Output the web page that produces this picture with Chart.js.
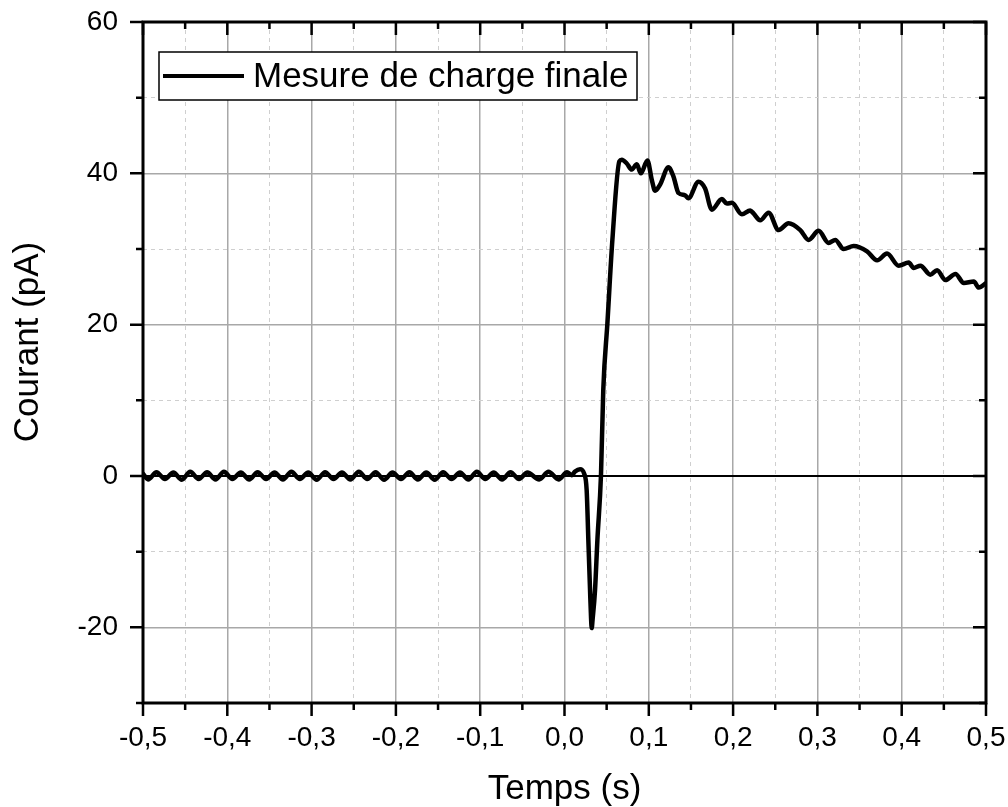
<!DOCTYPE html>
<html>
<head>
<meta charset="utf-8">
<script src="https://cdn.jsdelivr.net/npm/chart.js@4"></script>
<style>
html,body{margin:0;padding:0;background:#fff;}
#wrap{width:1008px;height:807px;}
</style>
</head>
<body>
<div id="wrap"><canvas id="c" width="1008" height="807"></canvas></div>
<script>
// ---- data ----
const seriesLabel = "Mesure de charge finale";
const xTitle = "Temps (s)";
const yTitle = "Courant (pA)";
const xTickLabels = ["-0,5","-0,4","-0,3","-0,2","-0,1","0,0","0,1","0,2","0,3","0,4","0,5"];
const yTickLabels = ["-20","0","20","40","60"];

const baselineTime = [-0.5,-0.494,-0.484,-0.474,-0.464,-0.454,-0.444,-0.434,-0.424,-0.414,-0.404,
  -0.394,-0.384,-0.374,-0.364,-0.354,-0.344,-0.334,-0.324,-0.314,-0.304,-0.294,-0.284,-0.274,-0.264,
  -0.254,-0.244,-0.234,-0.224,-0.214,-0.204,-0.194,-0.184,-0.174,-0.164,-0.154,-0.144,-0.134,-0.124,
  -0.114,-0.104,-0.094,-0.084,-0.074,-0.064,-0.054,-0.044,-0.03,-0.019,-0.007,0.003,0.0085,0.0125,0.0184,0.0232];
const baselineCurrent = [0.3,-0.45,0.5,-0.4,0.45,-0.5,0.55,-0.4,0.5,-0.45,0.55,
  -0.4,0.45,-0.45,0.5,-0.4,0.45,-0.45,0.55,-0.4,0.45,-0.5,0.5,-0.4,0.45,
  -0.45,0.55,-0.4,0.5,-0.5,0.45,-0.4,0.5,-0.45,0.45,-0.5,0.5,-0.4,0.45,
  -0.45,0.55,-0.4,0.45,-0.45,0.5,-0.4,0.45,-0.45,0.55,-0.45,0.5,0.1,0.6,0.9,0.35];

const pulseTime = [0.0263,0.0283,0.0303,0.0315,0.0323,0.0333,0.0362,0.039,0.0433,0.046,0.0509,0.0568,0.0651];
const pulseCurrent = [-1.9,-8.5,-15.1,-18.8,-20.1,-19.0,-15.1,-8.5,0.2,11.4,20.2,31.2,41.6];

const decayTime = [0.068,0.0739,0.0798,0.0858,0.0905,0.0984,0.1036,0.1075,0.1134,0.1233,0.1292,0.1352,
  0.1431,0.147,0.1589,0.1668,0.1748,0.1867,0.1926,0.1986,0.2104,0.2203,0.2242,0.2322,0.2421,0.254,
  0.2658,0.2797,0.2896,0.3014,0.3133,0.3212,0.3311,0.343,0.3589,0.3708,0.3826,0.3964,0.4083,0.4142,
  0.4222,0.434,0.442,0.4519,0.4638,0.4737,0.4855,0.4915,0.5];
const decayCurrent = [41.8,41.3,40.5,41.2,40.0,41.7,39.1,37.7,38.5,40.8,39.6,37.4,
  37.1,36.7,38.9,38.0,35.2,36.6,36.0,36.1,34.6,35.1,34.7,33.8,34.8,32.5,
  33.4,32.5,31.2,32.4,30.8,31.2,30.0,30.4,29.7,28.5,29.4,27.8,28.2,27.5,
  27.8,26.6,27.2,25.9,26.7,25.5,25.7,24.9,25.5];

// ---- build points ----
const allTime = baselineTime.concat(pulseTime, decayTime);
const allCurrent = baselineCurrent.concat(pulseCurrent, decayCurrent);
const points = allTime.map((t, i) => ({x: t, y: allCurrent[i]}));

const FONT = "'Liberation Sans', Arial, sans-serif";
const isMultiple = (v, step) => Math.abs(Math.round(v / step) * step - v) < 1e-6;
const fmtX = v => {
  const r = Math.round(v * 10) / 10;
  const s = r.toFixed(1).replace('.', ',');
  return s === '-0,0' ? '0,0' : s;
};

const framePlugin = {
  id: 'frame',
  afterDatasetsDraw(chart) {
    const {ctx, chartArea: a, scales} = chart;
    const xs = scales.x, ys = scales.y;
    ctx.save();
    ctx.strokeStyle = '#000';
    ctx.lineCap = 'butt';
    // ticks
    ctx.lineWidth = 2.5;
    xs.ticks.forEach(t => {
      const px = xs.getPixelForValue(t.value);
      const len = isMultiple(t.value, 0.1) ? 13 : 7;
      ctx.beginPath();
      ctx.moveTo(px, a.bottom); ctx.lineTo(px, a.bottom + len);
      ctx.moveTo(px, a.top); ctx.lineTo(px, a.top + len);
      ctx.stroke();
    });
    ys.ticks.forEach(t => {
      const py = ys.getPixelForValue(t.value);
      const len = isMultiple(t.value, 20) ? 13 : 7;
      ctx.beginPath();
      ctx.moveTo(a.left, py); ctx.lineTo(a.left - len, py);
      ctx.moveTo(a.right, py); ctx.lineTo(a.right - len, py);
      ctx.stroke();
    });
    // frame
    ctx.lineWidth = 3;
    ctx.beginPath();
    ctx.rect(a.left, a.top, a.right - a.left, a.bottom - a.top);
    ctx.stroke();
    // legend box
    const lx = a.left + 16, ly = a.top + 30, lw = 478, lh = 48;
    ctx.fillStyle = '#fff';
    ctx.fillRect(lx, ly, lw, lh);
    ctx.lineWidth = 1.5;
    ctx.strokeRect(lx, ly, lw, lh);
    const ds = chart.data.datasets[0];
    ctx.lineWidth = 4;
    ctx.strokeStyle = ds.borderColor;
    ctx.beginPath();
    ctx.moveTo(lx + 4, ly + 24); ctx.lineTo(lx + 85, ly + 24);
    ctx.stroke();
    ctx.fillStyle = '#000';
    ctx.font = '35px ' + FONT;
    ctx.textBaseline = 'middle';
    ctx.textAlign = 'left';
    ctx.fillText(ds.label, lx + 94, ly + 25);
    // y axis title
    ctx.save();
    ctx.translate(28, 342);
    ctx.rotate(-Math.PI / 2);
    ctx.textAlign = 'center';
    ctx.textBaseline = 'middle';
    ctx.fillText(yTitle, 0, 0);
    ctx.restore();
    ctx.restore();
  }
};

new Chart(document.getElementById('c'), {
  type: 'line',
  data: {
    datasets: [{
      label: seriesLabel,
      data: points,
      borderColor: '#000',
      borderWidth: 4.5,
      pointRadius: 0,
      fill: false,
      cubicInterpolationMode: 'monotone',
      borderJoinStyle: 'round',
      borderCapStyle: 'round'
    }]
  },
  options: {
    responsive: false,
    animation: false,
    layout: {padding: {top: 22, right: 22, left: 0, bottom: 0}},
    plugins: {legend: {display: false}, tooltip: {enabled: false}},
    scales: {
      x: {
        type: 'linear',
        min: -0.5, max: 0.5,
        afterFit: s => { s.height = 104; s.paddingLeft = 0; s.paddingRight = 0; },
        border: {display: false, dash: ctx => isMultiple(ctx.tick.value, 0.1) ? [] : [4, 4]},
        grid: {
          drawTicks: false,
          color: ctx => isMultiple(ctx.tick.value, 0.1) ? '#a8a8a8' : '#cfcfcf',
          lineWidth: ctx => isMultiple(ctx.tick.value, 0.1) ? 1.5 : 1
        },
        ticks: {
          stepSize: 0.05,
          autoSkip: false,
          maxRotation: 0,
          padding: 18,
          color: '#000',
          font: {family: FONT, size: 28},
          callback: v => {
            if (!isMultiple(v, 0.1)) return '';
            const lbl = fmtX(v);
            return xTickLabels.includes(lbl) ? lbl : '';
          }
        },
        title: {display: true, text: xTitle, color: '#000', font: {family: FONT, size: 35, lineHeight: 1}, padding: {top: 0, bottom: 0}}
      },
      y: {
        type: 'linear',
        min: -30, max: 60,
        afterFit: s => { s.width = 143; s.paddingTop = 0; s.paddingBottom = 0; },
        border: {display: false, dash: ctx => (isMultiple(ctx.tick.value, 20) ? [] : [4, 4])},
        grid: {
          drawTicks: false,
          color: ctx => ctx.tick.value === 0 ? '#000' : (isMultiple(ctx.tick.value, 20) ? '#a8a8a8' : '#cfcfcf'),
          lineWidth: ctx => ctx.tick.value === 0 ? 2 : (isMultiple(ctx.tick.value, 20) ? 1.5 : 1)
        },
        ticks: {
          stepSize: 10,
          autoSkip: false,
          padding: 25,
          color: '#000',
          font: {family: FONT, size: 28},
          callback: v => {
            const lbl = String(Math.round(v));
            return isMultiple(v, 20) && yTickLabels.includes(lbl) ? lbl : '';
          }
        },
        title: {display: false}
      }
    }
  },
  plugins: [framePlugin]
});
</script>
</body>
</html>
